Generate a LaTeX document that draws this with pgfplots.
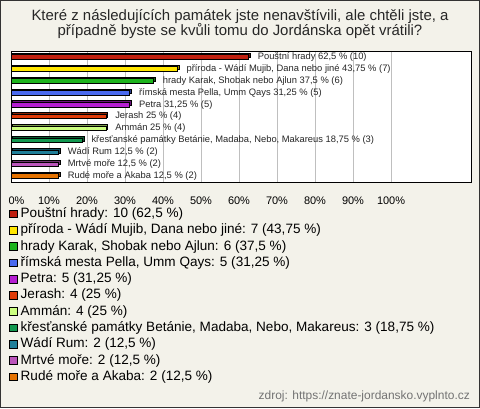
\documentclass[border=0pt]{standalone}
\usepackage{pgfplots}
\pgfplotsset{compat=1.18}
\usepackage{fontspec}
\setmainfont{Liberation Sans}
\definecolor{bgc}{HTML}{F3F2EA}
\definecolor{c1}{HTML}{C0200F}
\definecolor{c2}{HTML}{FFE600}
\definecolor{c3}{HTML}{1DB41D}
\definecolor{c4}{HTML}{4A6AEF}
\definecolor{c5}{HTML}{B51ED2}
\definecolor{c6}{HTML}{E03C0A}
\definecolor{c7}{HTML}{CCFF80}
\definecolor{c8}{HTML}{129850}
\definecolor{c9}{HTML}{1F7F99}
\definecolor{c10}{HTML}{BB55BB}
\definecolor{c11}{HTML}{E57200}
\newcommand{\mybar}[4]{%
  \addplot[xbar, bar width=4.5bp, bar shift=0pt, fill=#3!60!black, draw=black, line width=0.6bp, xshift=1.6bp, yshift=1.6bp, forget plot] coordinates {(#1,#2)};
  \addplot[xbar, bar width=4.5bp, bar shift=0pt, fill=#3, draw=black, line width=0.6bp, nodes near coords={#4}] coordinates {(#1,#2)};
}
\newcommand{\legitem}[3]{%
  \filldraw[fill=#2, draw=black, line width=0.7bp] (9.5,{408-214-16.27*#1-3.8}) rectangle (17,{408-214-16.27*#1+3.8});
  \node[anchor=west, inner sep=0pt, font=\fontsize{13.6}{15}\selectfont] at (20.5,{408-214-16.27*#1}) {#3};
}
\begin{document}
\begin{tikzpicture}[x=1bp,y=1bp]
\useasboundingbox (0,0) rectangle (480,408);
\fill[bgc] (0,0) rectangle (480,408);
\draw[line width=1bp, black!80] (0.5,0.5) rectangle (479.5,407.5);
\node[font=\fontsize{15}{17}\selectfont, text=black!85] at (240,{408-17}) {Které z následujících památek jste nenavštívili, ale chtěli jste, a};
\node[font=\fontsize{15}{17}\selectfont, text=black!85] at (240,{408-31.5}) {případně byste se kvůli tomu do Jordánska opět vrátili?};
\begin{axis}[
  at={(11bp,226bp)}, anchor=south west,
  scale only axis, width=460bp, height=131bp,
  xmin=0, xmax=121.05, ymin=-0.5, ymax=10.5, y dir=reverse,
  axis background/.style={fill=white},
  axis line style={black, line width=0.9bp},
  xtick={0,10,...,100},
  xticklabels={{\kern11bp 0\%},10\%,20\%,30\%,40\%,50\%,60\%,70\%,80\%,90\%,100\%},
  xticklabel style={font=\fontsize{11}{12}\selectfont, yshift=-11bp},
  /pgf/number format/assume math mode=true,
  major tick length=0pt,
  ytick=\empty,
  xmajorgrids, grid style={black!25, line width=0.8bp},
  clip=false,
  every node near coord/.style={anchor=west, inner sep=0pt, xshift=9bp, font=\fontsize{9.4}{11}\selectfont, text=black!85},
]
\mybar{62.5}{0}{c1}{Pouštní hrady 62,5 \% (10)}
\mybar{43.75}{1}{c2}{příroda - Wádí Mujib, Dana nebo jiné 43,75 \% (7)}
\mybar{37.5}{2}{c3}{hrady Karak, Shobak nebo Ajlun 37,5 \% (6)}
\mybar{31.25}{3}{c4}{římská mesta Pella, Umm Qays 31,25 \% (5)}
\mybar{31.25}{4}{c5}{Petra 31,25 \% (5)}
\mybar{25}{5}{c6}{Jerash 25 \% (4)}
\mybar{25}{6}{c7}{Ammán 25 \% (4)}
\mybar{18.75}{7}{c8}{křesťanské památky Betánie, Madaba, Nebo, Makareus 18,75 \% (3)}
\mybar{12.5}{8}{c9}{Wádí Rum 12,5 \% (2)}
\mybar{12.5}{9}{c10}{Mrtvé moře 12,5 \% (2)}
\mybar{12.5}{10}{c11}{Rudé moře a Akaba 12,5 \% (2)}
\end{axis}
\legitem{0}{c1}{Pouštní hrady: 10 (62,5 \%)}
\legitem{1}{c2}{příroda - Wádí Mujib, Dana nebo jiné: 7 (43,75 \%)}
\legitem{2}{c3}{hrady Karak, Shobak nebo Ajlun: 6 (37,5 \%)}
\legitem{3}{c4}{římská mesta Pella, Umm Qays: 5 (31,25 \%)}
\legitem{4}{c5}{Petra: 5 (31,25 \%)}
\legitem{5}{c6}{Jerash: 4 (25 \%)}
\legitem{6}{c7}{Ammán: 4 (25 \%)}
\legitem{7}{c8}{křesťanské památky Betánie, Madaba, Nebo, Makareus: 3 (18,75 \%)}
\legitem{8}{c9}{Wádí Rum: 2 (12,5 \%)}
\legitem{9}{c10}{Mrtvé moře: 2 (12,5 \%)}
\legitem{10}{c11}{Rudé moře a Akaba: 2 (12,5 \%)}
\node[anchor=east, inner sep=0pt, font=\fontsize{12}{14}\selectfont, text=black!55] at (470,{408-396.5}) {zdroj: https://znate-jordansko.vyplnto.cz};
\end{tikzpicture}
\end{document}
